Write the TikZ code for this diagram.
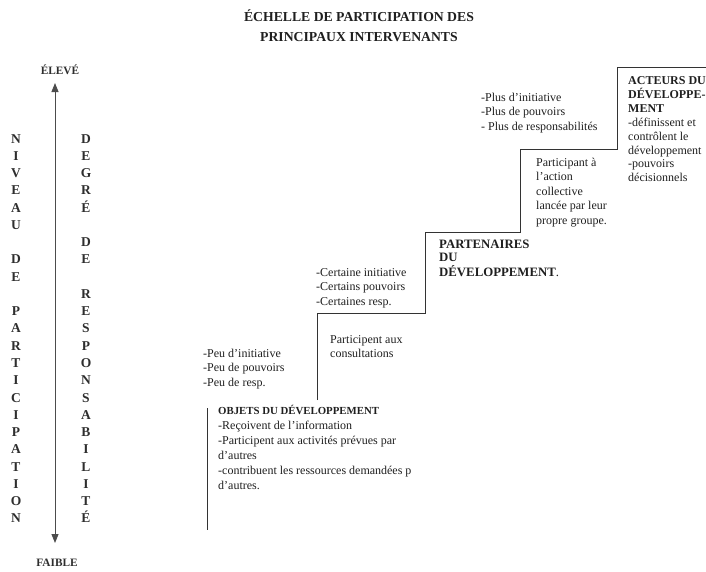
\documentclass[tikz,border=0pt]{standalone}
\usepackage{fontspec}
\setmainfont{Liberation Serif}
\usetikzlibrary{arrows.meta}
\newcommand\blk[1]{\begin{tabular}[t]{@{}l@{}}#1\end{tabular}}
\newcommand\hdb[2]{{\fontsize{#1}{13}\selectfont\bfseries #2}}
\begin{document}
\begin{tikzpicture}[x=1pt,y=-1pt,
  txt/.style={anchor=base west, inner sep=0pt, text=black!88, font=\fontsize{12}{14.5}\selectfont},
  txtb/.style={anchor=base west, inner sep=0pt, text=black!88, font=\fontsize{12.8}{13.2}\selectfont\bfseries},
  letters/.style={anchor=base, inner sep=0pt, text=black!82, font=\fontsize{13.5}{17.27}\selectfont\bfseries},
  endlbl/.style={anchor=base, inner sep=0pt, text=black!82, font=\fontsize{11.3}{12}\selectfont\bfseries},
  stair/.style={draw=black!80, line width=0.9pt},
  scale arrow/.style={draw=black!70, line width=0.9pt, {Triangle[length=9pt,width=7pt]}-{Triangle[length=9pt,width=7pt]}}
]
\useasboundingbox (0,0) rectangle (706,571);

% title
\node[anchor=base, inner sep=0pt, text=black!88, font=\fontsize{13.7}{20}\selectfont\bfseries] (title) at (359,21)
  {\begin{tabular}[t]{@{}c@{}}ÉCHELLE DE PARTICIPATION DES\\PRINCIPAUX INTERVENANTS\end{tabular}};

% vertical scale
\node[endlbl] (haut) at (60,74) {ÉLEVÉ};
\node[endlbl] (bas) at (57,566) {FAIBLE};
\coordinate (top) at (55,83);
\coordinate (bot) at (55,543);
\draw[scale arrow] (bot) -- (top);

\node[letters] (niveau) at (16,143) {\begin{tabular}[t]{@{}c@{}}N\\I\\V\\E\\A\\U\\ \\D\\E\\ \\P\\A\\R\\T\\I\\C\\I\\P\\A\\T\\I\\O\\N\end{tabular}};
\node[letters] (degre) at (86,143) {\begin{tabular}[t]{@{}c@{}}D\\E\\G\\R\\É\\ \\D\\E\\ \\R\\E\\S\\P\\O\\N\\S\\A\\B\\I\\L\\I\\T\\É\end{tabular}};

% staircase
\coordinate (s0) at (207,408);
\coordinate (s0b) at (207,530);
\coordinate (s1) at (317,400);
\coordinate (s2) at (317,313);
\coordinate (s3) at (425,313);
\coordinate (s4) at (425,232);
\coordinate (s5) at (520,232);
\coordinate (s6) at (520,149);
\coordinate (s7) at (617,149);
\coordinate (s8) at (617,67);
\coordinate (s9) at (706,67);
\draw[stair] (s0) -- (s0b);
\draw[stair] (s1) -- (s2) -- (s3) -- (s4) -- (s5) -- (s6) -- (s7) -- (s8) -- (s9);

% texts
\node[txt] (plus) at (481,101) {\blk{-Plus d’initiative\\-Plus de pouvoirs\\- Plus de responsabilités}};
\node[txt, font=\fontsize{12}{13.9}\selectfont] (acteurs) at (628,84) {\blk{\hdb{12}{ACTEURS DU}\\\hdb{12}{DÉVELOPPE-}\\\hdb{12}{MENT}\\-définissent et\\contrôlent le\\développement\\-pouvoirs\\décisionnels}};
\node[txtb] (partenaires) at (439,248) {\blk{PARTENAIRES\\DU\\DÉVELOPPEMENT{\mdseries.}}};
\node[txt] (action) at (536,166) {\blk{Participant à\\l’action\\collective\\lancée par leur\\propre groupe.}};
\node[txt] (certaine) at (316,276) {\blk{-Certaine initiative\\-Certains pouvoirs\\-Certaines resp.}};
\node[txt] (consult) at (330,343) {\blk{Participent aux\\consultations}};
\node[txt] (peu) at (203,357) {\blk{-Peu d’initiative\\-Peu de pouvoirs\\-Peu de resp.}};
\begin{scope}
\clip (0,0) rectangle (410.5,571);
\node[txt, font=\fontsize{12}{15}\selectfont] (objets) at (218,414) {\blk{\hdb{10.8}{OBJETS DU DÉVELOPPEMENT}\\-Reçoivent de l’information\\-Participent aux activités prévues par\\d’autres\\-contribuent les ressources demandées par\\d’autres.}};
\end{scope}
\end{tikzpicture}
\end{document}
